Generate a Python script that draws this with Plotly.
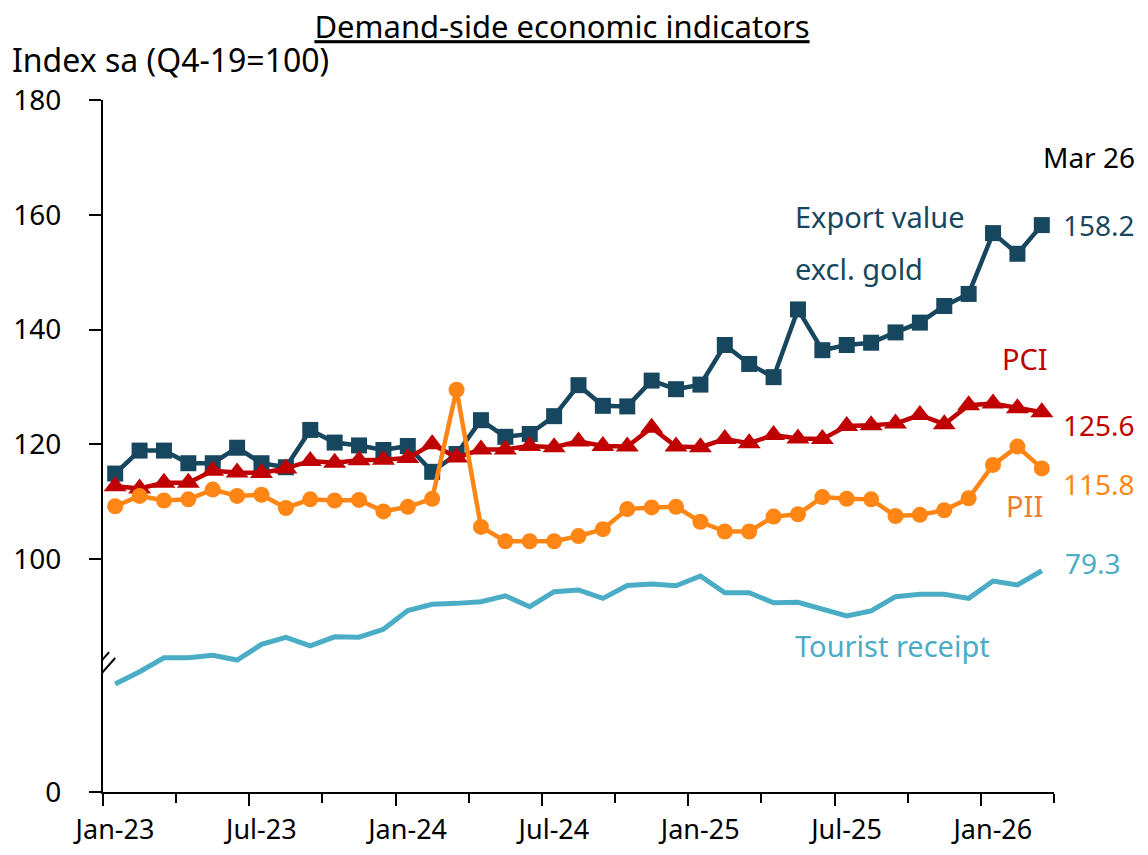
import plotly.graph_objects as go

# Monthly, Jan-23 .. Mar-26 (39 months)
months = [f"{m}-{y}" for y in ("23", "24", "25", "26")
          for m in ("Jan", "Feb", "Mar", "Apr", "May", "Jun",
                    "Jul", "Aug", "Sep", "Oct", "Nov", "Dec")][:39]

export_value = [114.9, 118.9, 118.9, 116.7, 116.7, 119.4, 116.7, 116.0, 122.5, 120.3,
                119.8, 119.0, 119.7, 115.2, 118.3, 124.2, 121.3, 121.8, 124.9, 130.3,
                126.7, 126.6, 131.1, 129.6, 130.4, 137.3, 134.0, 131.7, 143.5, 136.4,
                137.3, 137.7, 139.5, 141.2, 144.1, 146.2, 156.8, 153.2, 158.2]
pci = [112.7, 112.3, 113.3, 113.3, 115.4, 115.1, 115.0, 115.8, 117.1, 116.8,
       117.2, 117.3, 117.6, 120.0, 117.7, 119.1, 119.1, 119.7, 119.5, 120.5,
       119.7, 119.6, 122.9, 119.6, 119.5, 120.9, 120.2, 121.6, 121.0, 120.9,
       123.2, 123.3, 123.6, 125.1, 123.5, 126.8, 127.1, 126.3, 125.6]
pii = [109.2, 111.0, 110.2, 110.4, 112.1, 111.0, 111.2, 108.9, 110.4, 110.2,
       110.3, 108.3, 109.1, 110.5, 129.5, 105.6, 103.1, 103.1, 103.1, 104.0,
       105.2, 108.7, 109.0, 109.1, 106.5, 104.8, 104.8, 107.4, 107.8, 110.8,
       110.5, 110.4, 107.5, 107.7, 108.5, 110.6, 116.4, 119.6, 115.8]
tourist = [38.7, 43.1, 48.1, 48.1, 49.0, 47.3, 52.9, 55.4, 52.4, 55.6,
           55.5, 58.3, 65.0, 67.3, 67.6, 68.2, 70.3, 66.4, 71.8, 72.4,
           69.4, 74.0, 74.5, 73.9, 77.4, 71.4, 71.4, 67.8, 68.0, 65.5,
           63.1, 64.9, 70.0, 70.9, 70.9, 69.4, 75.6, 74.2, 79.3]

y_tickvals = [59.4, 100, 120, 140, 160, 180]
y_ticktext = ["0", "100", "120", "140", "160", "180"]
x_labels = ["Jan-23", "Jul-23", "Jan-24", "Jul-24", "Jan-25", "Jul-25", "Jan-26"]

EXPORT  = "#17475F"
PCI_C   = "#C00000"
PII_C   = "#FF8515"
PII_TXT = "#ED7D31"
TOUR    = "#4BACC6"
FONT    = "Noto Sans"

x = list(range(len(months)))
fig = go.Figure()

fig.add_trace(go.Scatter(
    x=x, y=tourist, yaxis="y2", mode="lines",
    line=dict(color=TOUR, width=5), name="Tourist receipt",
))
fig.add_trace(go.Scatter(
    x=x, y=export_value, mode="lines+markers",
    line=dict(color=EXPORT, width=4.5),
    marker=dict(symbol="square", size=16, color=EXPORT),
    name="Export value excl. gold",
))
fig.add_trace(go.Scatter(
    x=x, y=pci, mode="lines+markers",
    line=dict(color=PCI_C, width=4.5),
    marker=dict(symbol="triangle-up", size=20, color=PCI_C),
    name="PCI",
))
fig.add_trace(go.Scatter(
    x=x, y=pii, mode="lines+markers",
    line=dict(color=PII_C, width=4.5),
    marker=dict(symbol="circle", size=16, color=PII_C),
    name="PII",
))

# quarter boundaries get short ticks, half-year boundaries long ticks + label
major = [-0.5 + 6 * k for k in range(len(x_labels))]
minor = [-0.5 + 3 * k for k in range(14)]

# page body has an 8px margin, so the figure is 16px smaller than the window
fig.update_layout(
    width=1132, height=839,
    paper_bgcolor="white", plot_bgcolor="white",
    margin=dict(l=95, r=86, t=92, b=55),
    showlegend=False,
    font=dict(family=FONT, size=28, color="black"),
    title=dict(
        text="Demand-side economic indicators",
        x=0.4894, xanchor="center", y=0.977, yanchor="middle",
        font=dict(family=FONT, size=31, color="black", lineposition="under"),
    ),
    xaxis=dict(
        range=[-0.5, 38.5], showgrid=False, zeroline=False, automargin=False,
        showline=True, linecolor="black", linewidth=2,
        tickmode="array", tickvals=major, ticktext=x_labels,
        ticks="outside", ticklen=12, tickwidth=2, tickcolor="black",
        ticklabelshift=12, ticklabelstandoff=1,
        tickfont=dict(size=27),
        minor=dict(tickmode="array", tickvals=minor, ticks="outside",
                   ticklen=9, tickwidth=2, tickcolor="black", showgrid=False),
    ),
    yaxis=dict(
        range=[59.4, 180], showgrid=False, zeroline=False, automargin=False,
        showline=True, linecolor="black", linewidth=2,
        tickmode="array", tickvals=y_tickvals, ticktext=y_ticktext,
        ticks="outside", ticklen=12, tickwidth=2, tickcolor="black",
        ticklabelstandoff=22, tickfont=dict(size=28),
    ),
    yaxis2=dict(range=[0, 248], overlaying="y", visible=False),
)

# axis break
fig.add_shape(type="rect", x0=-0.72, x1=-0.28, y0=77.9, y1=88.15,
              xref="x", yref="y", fillcolor="white", line=dict(width=0), layer="above")
fig.add_shape(type="line", x0=-0.90, y0=80.65, x1=-0.25, y1=83.79,
              xref="x", yref="y", line=dict(color="black", width=2), layer="above")
fig.add_shape(type="line", x0=-0.66, y0=79.6, x1=0.0, y1=82.75,
              xref="x", yref="y", line=dict(color="black", width=2), layer="above")


def note(text, x, y, color, anchor="left", size=29):
    fig.add_annotation(text=text, x=x, y=y, xref="paper", yref="paper",
                       xanchor=anchor, yanchor="middle", showarrow=False,
                       font=dict(family=FONT, size=size, color=color))


note("Index sa (Q4-19=100)", -0.0978, 1.058, "black", size=32)
note("Mar 26", 1.087, 0.9176, "black", "right", size=28)
note("Export value", 0.7256, 0.831, EXPORT)
note("excl. gold", 0.7256, 0.757, EXPORT)
note("158.2", 1.087, 0.819, EXPORT, "right", size=28)
note("PCI", 0.9958, 0.627, PCI_C, "right")
note("125.6", 1.087, 0.530, PCI_C, "right", size=28)
note("PII", 0.9905, 0.4147, PII_TXT, "right")
note("115.8", 1.087, 0.445, PII_C, "right", size=28)
note("79.3", 1.0095, 0.331, TOUR, size=28)
note("Tourist receipt", 0.7256, 0.211, TOUR)

fig.write_html("out.html")
